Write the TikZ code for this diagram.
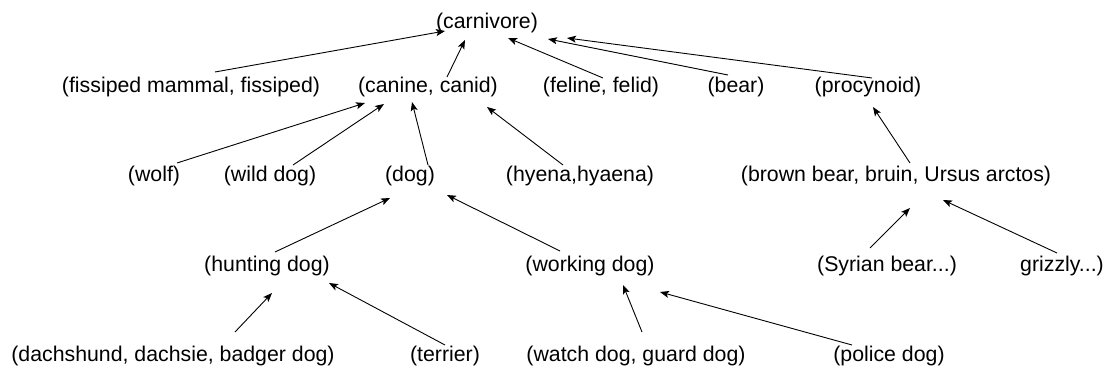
\documentclass[tikz,border=0pt]{standalone}
\usepackage{fontspec}
\setmainfont{Liberation Sans}
\usetikzlibrary{arrows.meta}
\tikzset{
  lbl/.style={inner sep=0pt, font=\fontsize{21.3pt}{24pt}\selectfont, text height=15.5pt, text depth=4.5pt},
  arr/.style={-{Stealth[length=9pt,width=7pt,inset=2pt]}, line width=0.9pt}
}
\begin{document}
\begin{tikzpicture}[x=1pt,y=-1pt]
\useasboundingbox[fill=white] (0,0) rectangle (1112,374);
% row 1
\node[lbl] (carnivore) at (487,23) {(carnivore)};
% row 2
\node[lbl] (fissiped) at (191,87) {(fissiped mammal, fissiped)};
\node[lbl] (canine) at (428,87) {(canine, canid)};
\node[lbl] (feline) at (601,87) {(feline, felid)};
\node[lbl] (bear) at (736,87) {(bear)};
\node[lbl] (procynoid) at (868,87) {(procynoid)};
% row 3
\node[lbl] (wolf) at (154,176) {(wolf)};
\node[lbl] (wilddog) at (270,176) {(wild dog)};
\node[lbl] (dog) at (410,176) {(dog)};
\node[lbl] (hyena) at (580,176) {(hyena,hyaena)};
\node[lbl] (brown) at (896,176) {(brown bear, bruin, Ursus arctos)};
% row 4
\node[lbl] (hunting) at (267,266) {(hunting dog)};
\node[lbl] (working) at (590,266) {(working dog)};
\node[lbl] (syrian) at (887,266) {(Syrian bear...)};
\node[lbl] (grizzly) at (1062,266) {grizzly...)};
% row 5
\node[lbl] (dachs) at (173,356) {(dachshund, dachsie, badger dog)};
\node[lbl] (terrier) at (445,356) {(terrier)};
\node[lbl] (watch) at (636,356) {(watch dog, guard dog)};
\node[lbl] (police) at (889,356) {(police dog)};
% connectors
\draw[arr] ([shift={(24,-15)}]fissiped.center) -- ([shift={(-42,8)}]carnivore.center);
\draw[arr] ([shift={(19,-10)}]canine.center) -- ([shift={(-22,17)}]carnivore.center);
\draw[arr] ([shift={(2,-9)}]feline.center) -- ([shift={(21,15)}]carnivore.center);
\draw[arr] ([shift={(-8,-12)}]bear.center) -- ([shift={(61,16)}]carnivore.center);
\draw[arr] ([shift={(4,-9)}]procynoid.center) -- ([shift={(80,15)}]carnivore.center);
\draw[arr] ([shift={(23,-13)}]wolf.center) -- ([shift={(-63,16)}]canine.center);
\draw[arr] ([shift={(23,-11)}]wilddog.center) -- ([shift={(-44,17)}]canine.center);
\draw[arr] ([shift={(18,-11)}]dog.center) -- ([shift={(-16,15)}]canine.center);
\draw[arr] ([shift={(-17,-11)}]hyena.center) -- ([shift={(59,20)}]canine.center);
\draw[arr] ([shift={(14,-13)}]brown.center) -- ([shift={(5,20)}]procynoid.center);
\draw[arr] ([shift={(8,-14)}]hunting.center) -- ([shift={(-20,22)}]dog.center);
\draw[arr] ([shift={(-30,-15)}]working.center) -- ([shift={(37,19)}]dog.center);
\draw[arr] ([shift={(-17,-18)}]syrian.center) -- ([shift={(14,32)}]brown.center);
\draw[arr] ([shift={(-5,-13)}]grizzly.center) -- ([shift={(47,24)}]brown.center);
\draw[arr] ([shift={(62,-24)}]dachs.center) -- ([shift={(5,27)}]hunting.center);
\draw[arr] ([shift={(0,-11)}]terrier.center) -- ([shift={(62,17)}]hunting.center);
\draw[arr] ([shift={(6,-24)}]watch.center) -- ([shift={(33,19)}]working.center);
\draw[arr] ([shift={(-37,-11)}]police.center) -- ([shift={(70,26)}]working.center);
\end{tikzpicture}
\end{document}
